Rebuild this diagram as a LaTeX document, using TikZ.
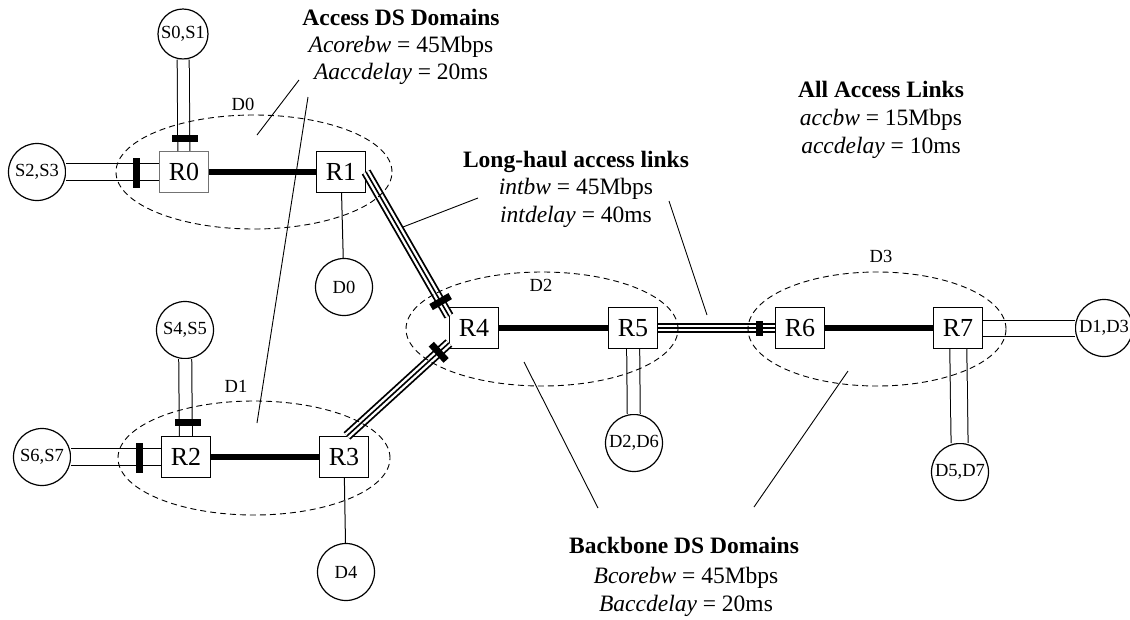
\documentclass[tikz,border=0pt]{standalone}
\usepackage{fontspec}
\setmainfont{Liberation Serif}
\usetikzlibrary{calc}
\tikzset{
  router/.style={draw, line width=1.2pt, minimum width=49pt, minimum height=41pt,
    inner sep=0pt, font=\fontsize{26}{30}\selectfont},
  host/.style={draw, circle, line width=1.2pt, minimum size=57pt, inner sep=0pt,
    font=\fontsize{18.5}{20}\selectfont},
  core/.style={line width=6pt},
  acc/.style={line width=1pt, double=white, double distance=#1},
  acc/.default=12pt,
  longhaul/.style={preaction={draw=black, line width=10pt}, draw=white,
    line width=6.4pt, postaction={draw=black, line width=1.6pt}},
  drop/.style={line width=1pt},
  tbar/.style={fill=black, inner sep=0pt, minimum width=7pt, minimum height=#1},
  tbar/.default=22pt,
  dom/.style={line width=0.9pt, dash pattern=on 6pt off 4pt},
  domlabel/.style={inner sep=0pt, font=\fontsize{18.5}{20}\selectfont},
  ann/.style={anchor=base, inner sep=0pt, font=\fontsize{23.5}{28}\selectfont},
  leader/.style={line width=0.9pt}
}
\begin{document}
\begin{tikzpicture}[x=1pt, y=-1pt]
\useasboundingbox (0,0) rectangle (1130,619);

% routers
\node[router, draw=black!55, line width=1pt] (R0) at (184,172) {R0};
\node[router] (R1) at (341,172) {R1};
\node[router] (R2) at (186,457) {R2};
\node[router] (R3) at (344,457) {R3};
\node[router] (R4) at (474,328) {R4};
\node[router] (R5) at (633,328) {R5};
\node[router] (R6) at (800,328) {R6};
\node[router] (R7) at (958,328) {R7};

% end hosts
\node[host, minimum size=50pt] (S01) at (183,34) {S0,S1};
\node[host] (S23) at (37,172) {S2,S3};
\node[host] (S45) at (185,330) {S4,S5};
\node[host] (S67) at (42,457) {S6,S7};
\node[host] (D0) at (344,287) {D0};
\node[host] (D4) at (346,572) {D4};
\node[host] (D26) at (634,443) {D2,D6};
\node[host] (D13) at (1104,328) {D1,D3};
\node[host] (D57) at (960,472) {D5,D7};

% access links
\draw[acc=11pt] (S01) -- (R0);
\draw[acc=16pt] (S23) -- (R0);
\draw[acc=12pt] (S45) -- (R2);
\draw[acc=16pt] (S67) -- (R2);
\draw[acc=12pt] (R5) -- (D26);
\draw[acc=15pt] (R7) -- (D13);
\draw[acc=16pt] (R7) -- (D57);

% core links inside the domains
\draw[core] (R0) -- (R1);
\draw[core] (R2) -- (R3);
\draw[core] (R4) -- (R5);
\draw[core] (R6) -- (R7);

% local destinations
\draw[drop] (R1) -- (D0);
\draw[drop] (R3) -- (D4);

% long-haul links with their conditioners
\draw[longhaul] (R1.east) -- ([yshift=12pt]R4.west)
  node[pos=.9, sloped, tbar] (b14) {};
\draw[longhaul] ([xshift=3pt]R3.north) -- ([yshift=-15pt]R4.west)
  node[pos=.9, sloped, tbar] (b34) {};
\draw[longhaul] (R5) -- (R6)
  node[pos=.87, sloped, tbar=15pt] (b56) {};

% conditioners on the source links
\node[fill=black, inner sep=0pt, minimum width=26pt, minimum height=7pt] (b01) at (185,138) {};
\node[fill=black, inner sep=0pt, minimum width=7pt, minimum height=30pt] (b23) at (136.5,173) {};
\node[fill=black, inner sep=0pt, minimum width=26pt, minimum height=7pt] (b45) at (188,422) {};
\node[fill=black, inner sep=0pt, minimum width=7pt, minimum height=30pt] (b67) at (139,458) {};

% DS domains
\draw[dom] (254,172) ellipse [x radius=138pt, y radius=57pt];
\draw[dom] (254,458) ellipse [x radius=136pt, y radius=57pt];
\draw[dom] (542,329) ellipse [x radius=136pt, y radius=57pt];
\draw[dom] (877,329) ellipse [x radius=129pt, y radius=57pt];
\node[domlabel] (L0) at (243,104) {D0};
\node[domlabel] (L1) at (236,386) {D1};
\node[domlabel] (L2) at (541,285) {D2};
\node[domlabel] (L3) at (881,256) {D3};

% parameter notes
\node[ann] (t1) at (401,25) {\textbf{Access DS Domains}};
\node[ann] (t1a) at (401,52) {\textit{Acorebw} = 45Mbps};
\node[ann] (t1b) at (401,79) {\textit{Aaccdelay} = 20ms};

\node[ann] (t2) at (576,167) {\textbf{Long-haul access links}};
\node[ann] (t2a) at (576,194) {\textit{intbw} = 45Mbps};
\node[ann] (t2b) at (576,222) {\textit{intdelay} = 40ms};

\node[ann] (t3) at (881,97) {\textbf{All Access Links}};
\node[ann] (t3a) at (881,125) {\textit{accbw} = 15Mbps};
\node[ann] (t3b) at (881,153) {\textit{accdelay} = 10ms};

\node[ann] (t4) at (684,553) {\textbf{Backbone DS Domains}};
\node[ann] (t4a) at (686,583) {\textit{Bcorebw} = 45Mbps};
\node[ann] (t4b) at (686,611) {\textit{Baccdelay} = 20ms};

% leader lines
\coordinate (a1s) at (299,80);  \coordinate (a1e) at (257,135);
\coordinate (a2s) at (308,97);  \coordinate (a2e) at (257,423);
\coordinate (l1s) at (478,198); \coordinate (l1e) at (403,227);
\coordinate (l2s) at (669,201); \coordinate (l2e) at (707,315);
\coordinate (k1s) at (598,508); \coordinate (k1e) at (524,362);
\coordinate (k2s) at (754,507); \coordinate (k2e) at (848,371);
\draw[leader] (a1s) -- (a1e);
\draw[leader] (a2s) -- (a2e);
\draw[leader] (l1s) -- (l1e);
\draw[leader] (l2s) -- (l2e);
\draw[leader] (k1s) -- (k1e);
\draw[leader] (k2s) -- (k2e);
\end{tikzpicture}
\end{document}
